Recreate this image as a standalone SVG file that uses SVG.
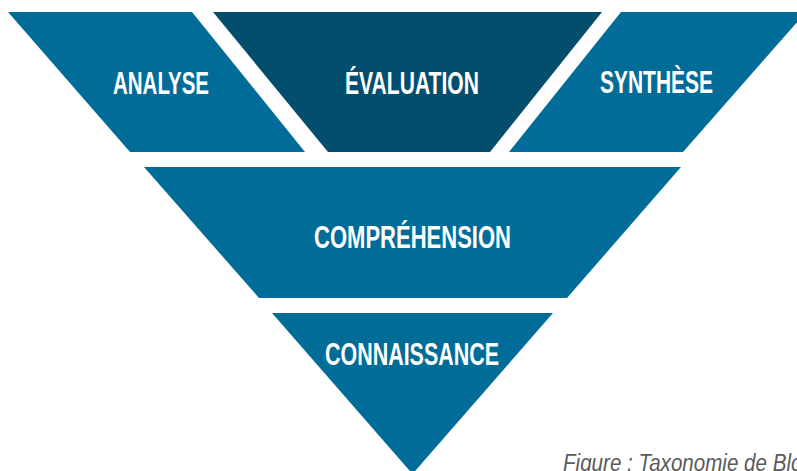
<svg xmlns="http://www.w3.org/2000/svg" width="797" height="471" viewBox="0 0 797 471">
<style>
.blk{fill:#016c98}
.dark{fill:#034e6c}
.lbl{font-family:"Liberation Sans","DejaVu Sans",sans-serif;font-weight:bold;font-size:32px;fill:#ffffff}
.cap{font-family:"Liberation Sans","DejaVu Sans",sans-serif;font-style:italic;font-size:23px;fill:#5a5a5a}
</style>
<rect x="0" y="0" width="797" height="471" fill="#ffffff"/>
<g id="analyse">
<polygon class="blk" points="8,12 192,12 305,152 130,152"/>
<text class="lbl" x="113" y="94" textLength="96" lengthAdjust="spacingAndGlyphs">ANALYSE</text>
</g>
<g id="evaluation">
<polygon class="dark" points="213,12 602,12 490,152 328,152"/>
<text class="lbl" x="345" y="94" textLength="134" lengthAdjust="spacingAndGlyphs">ÉVALUATION</text>
</g>
<g id="synthese">
<polygon class="blk" points="621,12 806,12 683,152 509,152"/>
<text class="lbl" x="600" y="93" textLength="113" lengthAdjust="spacingAndGlyphs">SYNTHÈSE</text>
</g>
<g id="comprehension">
<polygon class="blk" points="144,167 681,167 567,298 259,298"/>
<text class="lbl" x="314" y="248" textLength="197" lengthAdjust="spacingAndGlyphs">COMPRÉHENSION</text>
</g>
<g id="connaissance">
<polygon class="blk" points="272,313 553,313 412.5,474"/>
<text class="lbl" x="325" y="365" textLength="174" lengthAdjust="spacingAndGlyphs">CONNAISSANCE</text>
</g>
<g id="connectors"></g>
<g id="caption">
<text class="cap" x="563" y="471" textLength="268" lengthAdjust="spacingAndGlyphs">Figure : Taxonomie de Bloom</text>
</g>
</svg>
